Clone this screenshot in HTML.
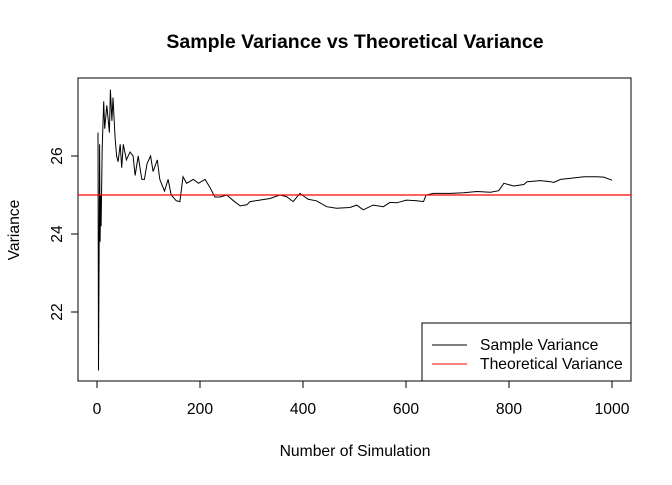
<!DOCTYPE html>
<html><head><meta charset="utf-8"><style>
body{margin:0;background:#fff}
svg text{font-family:"Liberation Sans",Arial,sans-serif}
</style></head><body>
<svg id="c" width="672" height="480" xmlns="http://www.w3.org/2000/svg"></svg>
<script>
const xTicks=[0,200,400,600,800,1000];
const yTicks=[22,24,26];
const theoretical=25;
const sampleN=[2,3,4,5,6,7,8,10,13,15,19,24,26,29,31,35,38,41,45,48,51,57,64,70,74,80,87,92,97,104,109,117,122,131,138,144,154,161,167,174,187,197,210,219,229,239,252,265,278,291,297,316,336,355,368,381,394,410,426,446,465,491,504,517,536,556,569,582,601,621,634,639,653,686,712,738,764,780,790,809,829,835,861,881,887,900,920,946,971,984,1000];
const sampleV=[26.6,20.5,23.4,26.3,23.8,25.0,24.2,26.2,27.4,26.7,27.3,26.6,27.7,26.9,27.5,26.5,26.0,25.85,26.3,25.7,26.3,25.9,26.1,26.0,25.5,26.0,25.4,25.4,25.8,26.0,25.6,25.9,25.4,25.1,25.4,25.0,24.85,24.83,25.47,25.3,25.4,25.3,25.4,25.2,24.95,24.95,25.0,24.85,24.72,24.75,24.83,24.87,24.91,25.0,24.96,24.83,25.04,24.89,24.85,24.7,24.66,24.68,24.74,24.62,24.74,24.7,24.81,24.8,24.87,24.85,24.83,25.0,25.04,25.04,25.06,25.09,25.07,25.11,25.3,25.23,25.27,25.34,25.37,25.34,25.32,25.4,25.43,25.47,25.47,25.46,25.38];
const NS="http://www.w3.org/2000/svg",svg=document.getElementById('c');
const X=v=>97+(v/1000)*515, Y=v=>195-(v-25)*39;
const FS=15.7;
function el(t,a,p){const e=document.createElementNS(NS,t);for(const k in a)e.setAttribute(k,a[k]);(p||svg).appendChild(e);return e;}
let t=el('text',{x:355,y:48,'text-anchor':'middle','font-size':19.5,'font-weight':'bold'});t.textContent='Sample Variance vs Theoretical Variance';


let b=el('rect',{x:78,y:78,width:553,height:303,fill:'none',stroke:'#000'});


el('line',{x1:X(0),x2:X(1000),y1:381,y2:381,stroke:'#000'});
xTicks.forEach(v=>{el('line',{x1:X(v),x2:X(v),y1:381,y2:388,stroke:'#000'});
const l=el('text',{x:X(v),y:414,'text-anchor':'middle','font-size':FS});l.textContent=v;

});
el('line',{x1:78,x2:78,y1:Y(26),y2:Y(22),stroke:'#000'});
yTicks.forEach(v=>{el('line',{x1:71,x2:78,y1:Y(v),y2:Y(v),stroke:'#000'});
const l=el('text',{x:0,y:0,'text-anchor':'middle','font-size':FS,transform:`translate(62,${Y(v)}) rotate(-90)`});l.textContent=v;

});
t=el('text',{x:355,y:456,'text-anchor':'middle','font-size':FS});t.textContent='Number of Simulation';


t=el('text',{x:0,y:0,'text-anchor':'middle','font-size':FS,transform:'translate(19,230) rotate(-90)'});t.textContent='Variance';


const pts=sampleN.map((n,i)=>X(n).toFixed(1)+','+Y(sampleV[i]).toFixed(1)).join(' ');
let pl=el('polyline',{points:pts,fill:'none',stroke:'#000','stroke-width':1});


let h=el('line',{x1:78,x2:631,y1:Y(theoretical),y2:Y(theoretical),stroke:'#f00','stroke-width':1.2});


const g=el('g',{});


el('rect',{x:422,y:323,width:209,height:58,fill:'#fff',stroke:'#000'},g);
el('line',{x1:432,x2:467,y1:345,y2:345,stroke:'#000'},g);
el('line',{x1:432,x2:467,y1:364,y2:364,stroke:'#f00'},g);
let a=el('text',{x:480,y:350,'font-size':FS},g);a.textContent='Sample Variance';


a=el('text',{x:480,y:369,'font-size':FS},g);a.textContent='Theoretical Variance';


</script>
</body></html>
